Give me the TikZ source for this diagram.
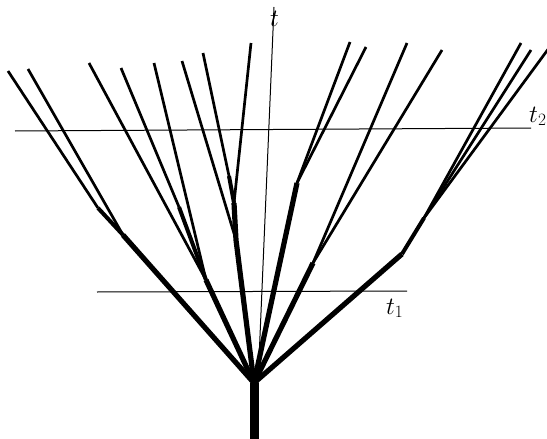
\documentclass[tikz,border=0pt]{standalone}
\begin{document}
\begin{tikzpicture}[x=1pt,y=-1pt,leaf/.style={line width=2.7pt},twig/.style={line width=4pt},limb/.style={line width=5.2pt},trunk/.style={line width=9pt},slice/.style={line width=1pt},every node/.style={font=\fontsize{24}{28}\selectfont,inner sep=0pt}]
  \useasboundingbox (0,0) rectangle (547,439);
  \coordinate (root) at (254,383); \coordinate (base) at (254,439);
  \coordinate (a1) at (98,208); \coordinate (a2) at (123,235);
  \coordinate (b1) at (179,207); \coordinate (b2) at (206,280);
  \coordinate (c1) at (229,176); \coordinate (c2) at (234,203); \coordinate (c3) at (236,240);
  \coordinate (d1) at (297,183); \coordinate (e1) at (313,263);
  \coordinate (f1) at (402,254); \coordinate (g1) at (424,218);
  \coordinate (l1) at (8,71); \coordinate (l2) at (28,69); \coordinate (l3) at (89,63);
  \coordinate (l4) at (121,68); \coordinate (l5) at (154,63); \coordinate (l6) at (182,61);
  \coordinate (l7) at (203,53); \coordinate (l8) at (251,43); \coordinate (l9) at (350,42);
  \coordinate (l10) at (366,47); \coordinate (l11) at (407,43); \coordinate (l12) at (442,50);
  \coordinate (l13) at (521,43); \coordinate (l14) at (531,50); \coordinate (l15) at (549,48);
  \coordinate (axb) at (258,383); \coordinate (axt) at (274,7);
  \coordinate (s2a) at (15,131); \coordinate (s2b) at (531,128);
  \coordinate (s1a) at (97,292); \coordinate (s1b) at (407,291);
  \draw[slice] (axb) -- (axt); \draw[slice] (s2a) -- (s2b); \draw[slice] (s1a) -- (s1b);
  \draw[leaf] (l1) -- (a1); \draw[leaf] (l2) -- (a2);
  \draw[leaf] (l3) -- (b2); \draw[leaf] (l4) -- (b1); \draw[leaf] (l5) -- (b2);
  \draw[leaf] (l6) -- (c3); \draw[leaf] (l7) -- (c1); \draw[leaf] (l8) -- (c2);
  \draw[leaf] (l9) -- (d1); \draw[leaf] (l10) -- (d1);
  \draw[leaf] (l11) -- (e1); \draw[leaf] (l12) -- (e1);
  \draw[leaf] (l13) -- (g1); \draw[leaf] (l14) -- (g1); \draw[leaf] (l15) -- (g1);
  \draw[twig] (a1) -- (a2); \draw[twig] (b1) -- (b2); \draw[twig] (c1) -- (c2); \draw[twig] (g1) -- (f1);
  \draw[limb] (a2) -- (root); \draw[limb] (b2) -- (root); \draw[limb] (c2) -- (c3) -- (root);
  \draw[limb] (d1) -- (root); \draw[limb] (e1) -- (root); \draw[limb] (f1) -- (root);
  \draw[trunk] (root) -- (base);
  \node[anchor=base west] (tt) at (270,27) {$t$};
  \node[anchor=base west] (t2) at (529,122) {$t_2$};
  \node[anchor=base west] (t1) at (386,314) {$t_1$};
\end{tikzpicture}
\end{document}
